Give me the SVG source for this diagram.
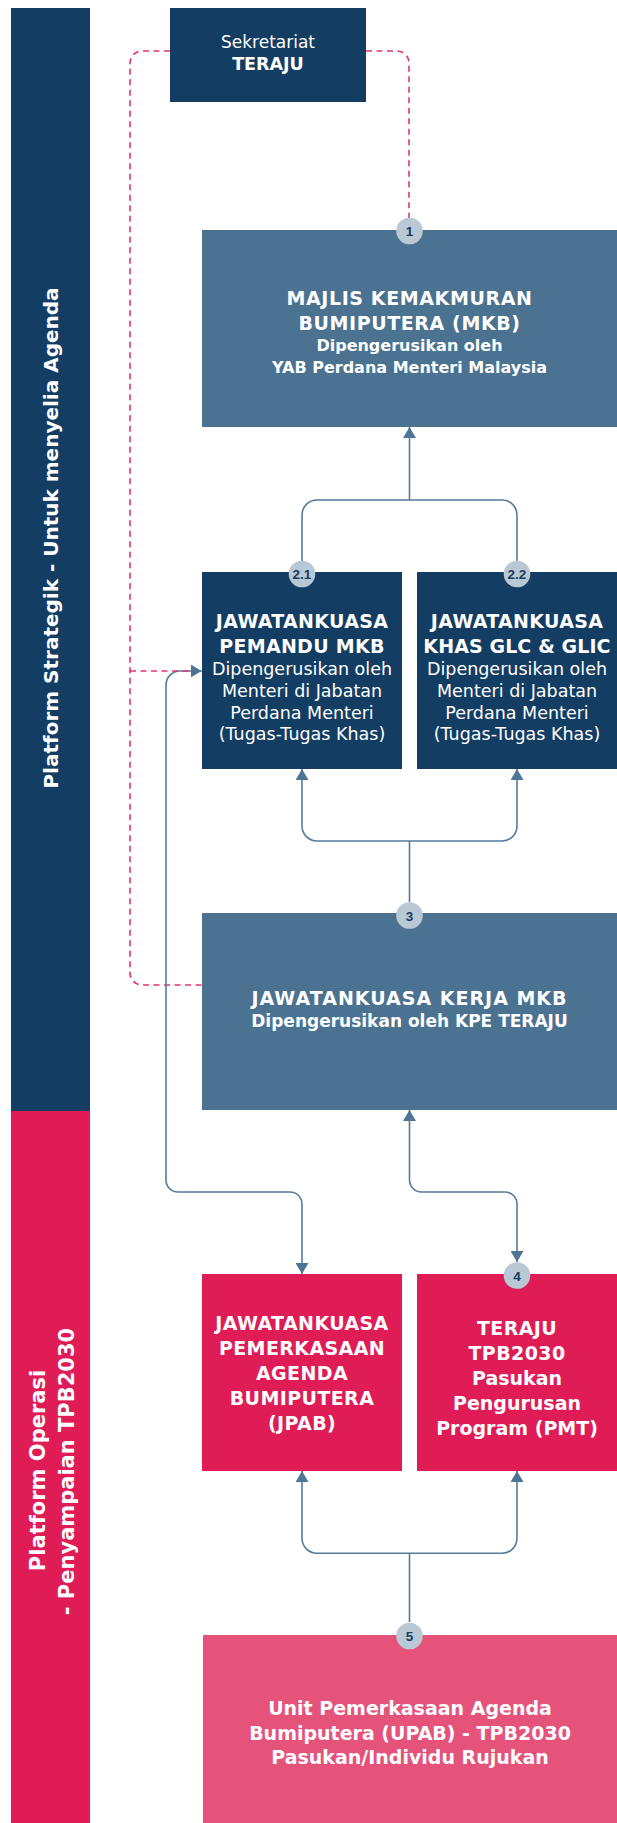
<svg xmlns="http://www.w3.org/2000/svg" width="617" height="1823" viewBox="0 0 617 1823">
<style>
.navy{fill:#133d63}
.steel{fill:#4b7291}
.red{fill:#df1c56}
.pink{fill:#e5537b}
.t{font-family:"DejaVu Sans","Liberation Sans",sans-serif;fill:#ffffff;text-anchor:middle}
.b{font-weight:bold}
.l{font-weight:normal}
.h{font-size:19px;font-weight:bold;letter-spacing:0.4px}
.s16{font-size:16px;font-weight:bold}
.lt{font-size:17.5px;font-weight:normal}
.side{font-family:"DejaVu Sans","Liberation Sans",sans-serif;font-weight:bold;fill:#ffffff;text-anchor:middle}
.badge{fill:#b8c8d4}
.bt{font-family:"Liberation Sans","DejaVu Sans",sans-serif;font-weight:bold;font-size:13.5px;fill:#183a5e;text-anchor:middle}
.c{fill:none;stroke:#557a9a;stroke-width:1.6}
.d{fill:none;stroke:#e4336b;stroke-width:1.6;stroke-dasharray:6 4.5}
</style>
<defs>
<marker id="ah" viewBox="0 0 11 13" refX="11" refY="6.5" markerWidth="11" markerHeight="13" markerUnits="userSpaceOnUse" orient="auto-start-reverse">
<path d="M0,0 L11,6.5 L0,13 z" fill="#4f7595"/>
</marker>
</defs>

<g id="bar-strategik">
<rect x="11" y="8" width="79" height="1103" class="navy"/>
<text class="side" font-size="20" transform="translate(57.5,538) rotate(-90)">Platform Strategik - Untuk menyelia Agenda</text>
</g>
<g id="bar-operasi">
<rect x="11" y="1111" width="79" height="712" class="red"/>
<text class="side" font-size="21" transform="translate(45,1470.5) rotate(-90)">Platform Operasi</text>
<text class="side" font-size="21" transform="translate(74,1471.5) rotate(-90)">- Penyampaian TPB2030</text>
</g>

<g id="connectors">
<path class="d" d="M170,51 H142 A12,12 0 0 0 130,63 V973 A12,12 0 0 0 142,985 H202"/>
<path class="d" d="M366,51 H397 A12,12 0 0 1 409,63 V218"/>
<path class="c" d="M201.7,671 H180 A14,14 0 0 0 166,685 V1180 A12,12 0 0 0 178,1192 H290 A12,12 0 0 1 302,1204 V1274" marker-start="url(#ah)" marker-end="url(#ah)"/>
<path class="d" d="M130,671 H190"/>
<path class="c" d="M302,562 V515 A15,15 0 0 1 317,500 H502 A15,15 0 0 1 517,515 V562"/>
<path class="c" d="M409.5,500 V427" marker-end="url(#ah)"/>
<path class="c" d="M302,769 V826 A15,15 0 0 0 317,841 H502 A15,15 0 0 0 517,826 V769" marker-start="url(#ah)" marker-end="url(#ah)"/>
<path class="c" d="M409.5,902 V841"/>
<path class="c" d="M409.5,1110 V1180 A12,12 0 0 0 421.5,1192 H505 A12,12 0 0 1 517,1204 V1262" marker-start="url(#ah)" marker-end="url(#ah)"/>
<path class="c" d="M302,1471 V1538.3 A15,15 0 0 0 317,1553.3 H502 A15,15 0 0 0 517,1538.3 V1471" marker-start="url(#ah)" marker-end="url(#ah)"/>
<path class="c" d="M409.5,1622 V1553.3"/>
</g>

<g id="sekretariat">
<rect x="170" y="8" width="196" height="94" class="navy"/>
<text class="t l" x="268" y="48" font-size="17">Sekretariat</text>
<text class="t b" x="268" y="70" font-size="17.5">TERAJU</text>
</g>

<g id="mkb">
<rect x="202" y="230" width="415" height="197" class="steel"/>
<text class="t h" x="409.5" y="305" style="letter-spacing:0.6px">MAJLIS KEMAKMURAN</text>
<text class="t h" x="409.5" y="330" style="letter-spacing:0.6px">BUMIPUTERA (MKB)</text>
<text class="t s16" x="409.5" y="351">Dipengerusikan oleh</text>
<text class="t s16" x="409.5" y="373">YAB Perdana Menteri Malaysia</text>
<circle cx="409.5" cy="231" r="13.3" class="badge"/>
<text class="bt" x="409.5" y="236">1</text>
</g>

<g id="jk-pemandu">
<rect x="202" y="572" width="200" height="197" class="navy"/>
<text class="t h" x="302" y="628" style="letter-spacing:0.3px">JAWATANKUASA</text>
<text class="t h" x="302" y="653" style="letter-spacing:0.3px">PEMANDU MKB</text>
<text class="t lt" x="302" y="675">Dipengerusikan oleh</text>
<text class="t lt" x="302" y="697">Menteri di Jabatan</text>
<text class="t lt" x="302" y="719">Perdana Menteri</text>
<text class="t lt" x="302" y="740">(Tugas-Tugas Khas)</text>
<circle cx="302" cy="574" r="13.3" class="badge"/>
<text class="bt" x="302" y="579">2.1</text>
</g>

<g id="jk-khas">
<rect x="417" y="572" width="200" height="197" class="navy"/>
<text class="t h" x="517" y="628" style="letter-spacing:0.3px">JAWATANKUASA</text>
<text class="t h" x="517" y="653" style="letter-spacing:0.1px">KHAS GLC &amp; GLIC</text>
<text class="t lt" x="517" y="675">Dipengerusikan oleh</text>
<text class="t lt" x="517" y="697">Menteri di Jabatan</text>
<text class="t lt" x="517" y="719">Perdana Menteri</text>
<text class="t lt" x="517" y="740">(Tugas-Tugas Khas)</text>
<circle cx="517" cy="574" r="13.3" class="badge"/>
<text class="bt" x="517" y="579">2.2</text>
</g>

<g id="jk-kerja">
<rect x="202" y="913" width="415" height="197" class="steel"/>
<text class="t h" x="409.5" y="1005" style="letter-spacing:1px">JAWATANKUASA KERJA MKB</text>
<text class="t b" x="409.5" y="1027" font-size="17">Dipengerusikan oleh KPE TERAJU</text>
<circle cx="409.5" cy="915.5" r="13.3" class="badge"/>
<text class="bt" x="409.5" y="920.5">3</text>
</g>

<g id="jpab">
<rect x="202" y="1274" width="200" height="197" class="red"/>
<text class="t h" x="302" y="1330">JAWATANKUASA</text>
<text class="t h" x="302" y="1355">PEMERKASAAN</text>
<text class="t h" x="302" y="1380">AGENDA</text>
<text class="t h" x="302" y="1405">BUMIPUTERA</text>
<text class="t h" x="302" y="1430">(JPAB)</text>
</g>

<g id="pmt">
<rect x="417" y="1274" width="200" height="197" class="red"/>
<text class="t h" x="517" y="1335">TERAJU</text>
<text class="t h" x="517" y="1360">TPB2030</text>
<text class="t h" x="517" y="1385" style="letter-spacing:0">Pasukan</text>
<text class="t h" x="517" y="1410" style="letter-spacing:0">Pengurusan</text>
<text class="t h" x="517" y="1435" style="letter-spacing:0">Program (PMT)</text>
<circle cx="517" cy="1275.5" r="13.3" class="badge"/>
<text class="bt" x="517" y="1280.5">4</text>
</g>

<g id="upab">
<rect x="203" y="1635" width="414" height="188" class="pink"/>
<text class="t h" x="410" y="1715" style="letter-spacing:0">Unit Pemerkasaan Agenda</text>
<text class="t h" x="410" y="1739.5" style="letter-spacing:0">Bumiputera (UPAB) - TPB2030</text>
<text class="t h" x="410" y="1764" style="letter-spacing:0">Pasukan/Individu Rujukan</text>
<circle cx="409.5" cy="1636" r="13.3" class="badge"/>
<text class="bt" x="409.5" y="1641">5</text>
</g>
</svg>
